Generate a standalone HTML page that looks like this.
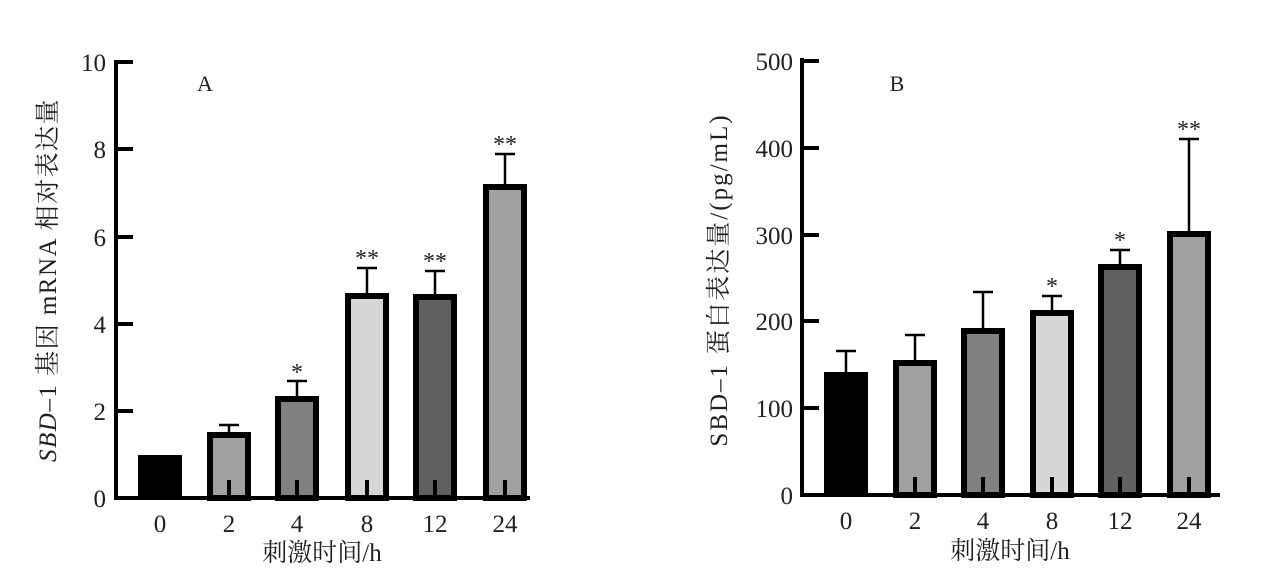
<!DOCTYPE html><html><head><meta charset="utf-8"><style>body{margin:0;background:#fff}svg text{font-family:"Liberation Serif","Noto Serif CJK SC",serif;fill:#231f20}</style></head><body>
<svg width="1267" height="573" xmlns="http://www.w3.org/2000/svg">
<g stroke="#000" fill="none">
<path d="M116 60V498H530" stroke-width="4"/>
<path d="M116 62h17M116 149h17M116 237h17M116 324h17M116 411h17" stroke-width="4"/>
<rect x="138" y="455" width="44" height="43" fill="#000" stroke="none"/>
<g stroke-width="6">
<rect x="210" y="435" width="38" height="63" fill="#a0a0a0"/>
<rect x="278" y="399" width="38" height="99" fill="#808080"/>
<rect x="348" y="296" width="38" height="202" fill="#d6d6d6"/>
<rect x="416" y="297" width="38" height="201" fill="#606060"/>
<rect x="486" y="187" width="38" height="311" fill="#a0a0a0"/>
</g>
<g stroke-width="2.5">
<path d="M229 432V425M219 425h20M297 396V381M287 381h20M367 293V268M357 268h20M435 294V271M425 271h20M505 184V154M495 154h20"/>
</g>
<path d="M229 498v-18M297 498v-18M367 498v-18M435 498v-18M505 498v-18" stroke-width="4"/>
<path d="M802 58V495H1220" stroke-width="4"/>
<path d="M802 61h17M802 148h17M802 235h17M802 321h17M802 408h17" stroke-width="4"/>
<rect x="824" y="372" width="44" height="123" fill="#000" stroke="none"/>
<g stroke-width="6">
<rect x="896" y="363" width="38" height="132" fill="#a0a0a0"/>
<rect x="964" y="331" width="38" height="164" fill="#808080"/>
<rect x="1033" y="313" width="38" height="182" fill="#d6d6d6"/>
<rect x="1101" y="267" width="38" height="228" fill="#606060"/>
<rect x="1170" y="234" width="38" height="261" fill="#a0a0a0"/>
</g>
<g stroke-width="2.5">
<path d="M846 372V351M836 351h20M915 360V335M905 335h20M983 328V292M973 292h20M1052 310V296M1042 296h20M1120 264V250M1110 250h20M1189 231V139M1179 139h20"/>
</g>
<path d="M915 495v-18M983 495v-18M1052 495v-18M1120 495v-18M1189 495v-18" stroke-width="4"/>
</g>
<g font-size="25" text-anchor="end">
<text x="106" y="71">10</text><text x="106" y="158">8</text><text x="106" y="246">6</text><text x="106" y="333">4</text><text x="106" y="420">2</text><text x="106" y="507">0</text>
<text x="793" y="70">500</text><text x="793" y="157">400</text><text x="793" y="244">300</text><text x="793" y="330">200</text><text x="793" y="417">100</text><text x="793" y="504">0</text>
</g>
<g font-size="25" text-anchor="middle">
<text x="160" y="532">0</text><text x="229" y="532">2</text><text x="297" y="532">4</text><text x="367" y="532">8</text><text x="435" y="532">12</text><text x="505" y="532">24</text>
<text x="846" y="529">0</text><text x="915" y="529">2</text><text x="983" y="529">4</text><text x="1052" y="529">8</text><text x="1120" y="529">12</text><text x="1189" y="529">24</text>
<text x="322" y="561">刺激时间/h</text><text x="1010" y="559">刺激时间/h</text>
<text x="205" y="91" font-size="22">A</text><text x="897" y="91" font-size="22">B</text>
</g>
<g font-size="24" text-anchor="middle">
<text x="297" y="380">*</text><text x="367" y="266">**</text><text x="435" y="269">**</text><text x="505" y="152">**</text>
<text x="1052" y="294">*</text><text x="1120" y="248">*</text><text x="1189" y="137">**</text>
</g>
<text transform="translate(56,280) rotate(-90)" font-size="25" text-anchor="middle" letter-spacing="1.5"><tspan font-style="italic">SBD</tspan>–1 基因 mRNA 相对表达量</text>
<text transform="translate(727,280) rotate(-90)" font-size="25" text-anchor="middle" letter-spacing="2">SBD–1 蛋白表达量/(pg/mL)</text>
</svg></body></html>
